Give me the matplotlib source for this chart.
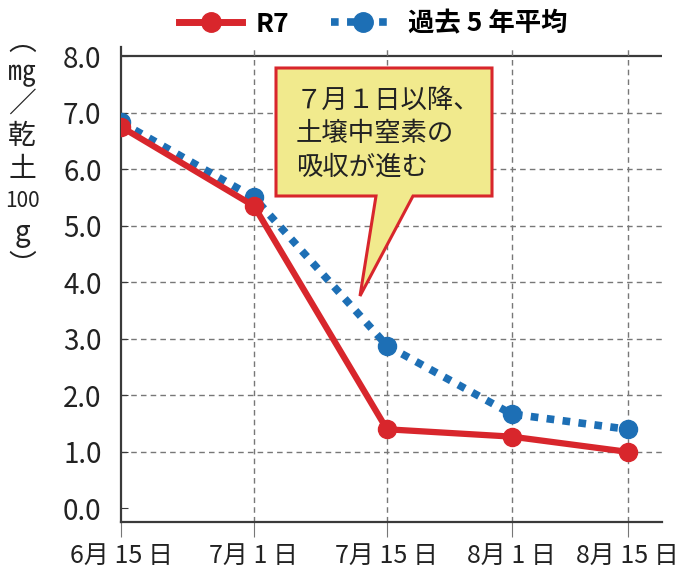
import matplotlib.pyplot as plt
from matplotlib.patches import Polygon
from matplotlib.lines import Line2D

plt.rcParams['font.family'] = ['Noto Sans CJK JP', 'DejaVu Sans']

# sampling day (days after 6/15) and tick labels
days = [0, 16, 32, 47, 61]
tick_labels = ['6月 15 日', '7月 1 日', '7月 15 日', '8月 1 日', '8月 15 日']
r7 = [6.75, 5.35, 1.40, 1.27, 1.00]
past5 = [6.83, 5.50, 2.88, 1.67, 1.40]
yticks = [0, 1, 2, 3, 4, 5, 6, 7, 8]

red = '#d8262c'
blue = '#1d6fb5'
dark = '#3a3a3a'

fig = plt.figure(figsize=(6.81, 5.74), dpi=100)
ax = fig.add_axes([0.1777, 0.0906, 0.972 - 0.1777, 0.918 - 0.0906])
ax.set_xlim(0, 65.1)
ax.set_ylim(-0.24, 8.16)

# grid
for y in yticks[1:-1]:
    ax.axhline(y, color='#777777', lw=1.0, ls=(0, (4, 3)), zorder=1)
ax.axhline(8, color=dark, lw=1.6, zorder=1)
for d in days[1:]:
    ax.axvline(d, color='#777777', lw=1.0, ls=(0, (4, 3)), zorder=1)

ax.plot(days, past5, color=blue, lw=5.5, ls=(0, (1.0, 1.1)),
        dash_capstyle='butt', zorder=3)
ax.plot(days, past5, 'o', color=blue, ms=13, zorder=4)
ax.plot(days, r7, color=red, lw=4.5, solid_capstyle='round', zorder=5)
ax.plot(days, r7, 'o', color=red, ms=13, zorder=6)

for s in ['top', 'right']:
    ax.spines[s].set_visible(False)
ax.spines['left'].set_color(dark)
ax.spines['bottom'].set_color(dark)
ax.spines['left'].set_linewidth(1.6)
ax.spines['bottom'].set_linewidth(1.6)

ax.set_yticks(yticks)
ax.set_yticklabels([f'{v:.1f}' for v in yticks], fontsize=20, color='#222222')
ax.tick_params(axis='y', direction='in', length=5, color=dark, pad=14)
ax.set_xticks(days)
ax.set_xticklabels(tick_labels, fontsize=18, color='#222222')
ax.tick_params(axis='x', direction='out', length=11, color='#777777', pad=4)

# y axis label, stacked vertically
W, H = 681, 574
ylab = ['︵', '㎎', '／', '乾', '土', '100', 'g', '︶']
ypix = [42, 72, 104, 136, 169, 201, 233, 266]
for t, yy in zip(ylab, ypix):
    fs = 15 if t == '100' else 20
    fig.text(22 / W, 1 - yy / H, t, fontsize=fs, ha='center', va='center',
             color='#222222')

# callout box
pts = [(276, 68), (492, 68), (492, 196), (413, 196), (360, 296), (376, 196), (276, 196)]
poly = Polygon([(x / W, 1 - y / H) for x, y in pts], closed=True,
               transform=fig.transFigure, facecolor='#f1ea8d', edgecolor=red, lw=2.2,
               zorder=10)
fig.patches.append(poly)
for i, line in enumerate(['７月１日以降、', '土壌中窒素の', '吸収が進む']):
    fig.text(296 / W, 1 - (100 + i * 33.5) / H, line, fontsize=19, ha='left',
             va='center', color='#222222', zorder=11)

# legend
handles = [
    Line2D([], [], color=red, lw=5, marker='o', ms=14),
    Line2D([], [], color=blue, lw=5.5, ls=(0, (1.0, 1.1)), marker='o', ms=14),
]
fig.legend(handles, ['R7', '過去 5 年平均'], loc='center', bbox_to_anchor=(0.548, 0.958),
           ncol=2, frameon=False, prop={'size': 19, 'weight': 'bold'},
           handlelength=2.4, columnspacing=1.6, handletextpad=0.5)

fig.savefig('out.png', dpi=100)
